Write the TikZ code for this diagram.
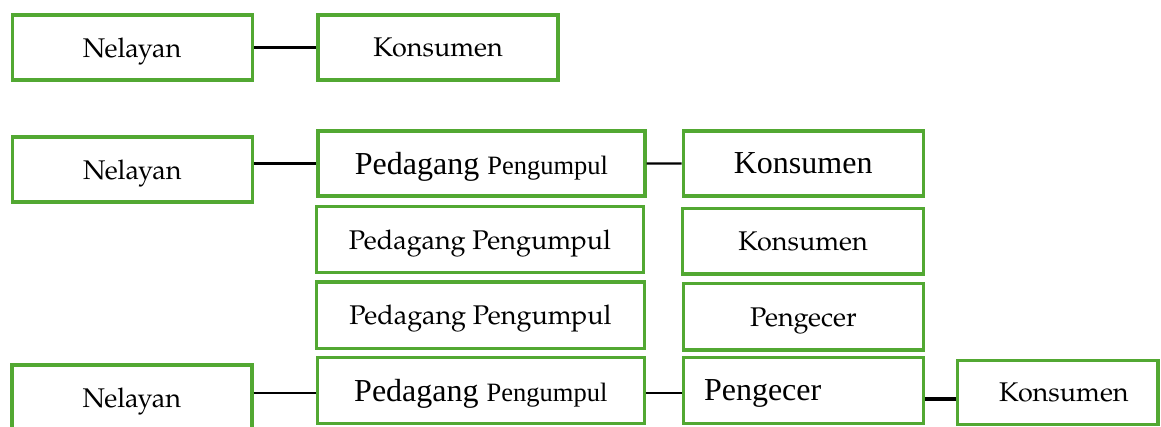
\documentclass[tikz,border=0pt]{standalone}
\usepackage{fontspec}
\newfontfamily\tmsfont{Liberation Serif}
\newfontfamily\palfont{TeX Gyre Pagella}
\definecolor{boxgreen}{RGB}{82,168,50}
\tikzset{
  box/.style={draw=boxgreen, line width=3.3pt, rectangle, inner sep=0pt,
    minimum width=240pt, minimum height=65pt, text depth=0pt, text=black},
  pal/.style={font=\palfont\fontsize{27}{32}\selectfont},
  link/.style={draw=black, line width=2.2pt},
  thicklink/.style={draw=black, line width=4pt}
}
\newcommand\bigsmall[2]{{\tmsfont\fontsize{32}{36}\selectfont #1 \fontsize{26.5}{30}\selectfont #2}}
\begin{document}
\begin{tikzpicture}[x=1pt,y=-1pt]
\useasboundingbox (0,0) rectangle (1161,426);

% first channel
\node[box,pal] (n1) at (132.2,47.5) {Nelayan};
\node[box,pal] (k1) at (438.1,47.5) {Konsumen};
\draw[link] (n1.east) -- (k1.west);

% second channel
\node[box,pal] (n2) at (132.3,169.5) {Nelayan};
\node[box,minimum width=327pt] (pp1) at (481.5,163.4) {\bigsmall{Pedagang}{Pengumpul}};
\node[box,font=\tmsfont\fontsize{32}{36}\selectfont] (k2) at (803.2,163.5) {Konsumen};
\draw[link] (n2.east |- pp1.west) -- (pp1.west);
\draw[link] (pp1.east) -- (k2.west);

% intermediate boxes
\node[box,pal,minimum width=326.6pt,minimum height=65.8pt] (pp2) at (480,239.6) {Pedagang Pengumpul};
\node[box,pal,minimum width=241.4pt,minimum height=65.7pt] (k3) at (803,241.2) {Konsumen};
\node[box,pal,minimum width=327.6pt,minimum height=66.2pt] (pp3) at (480.5,315.1) {Pedagang Pengumpul};
\node[box,pal,minimum height=66.7pt] (pg1) at (803.4,316.7) {Pengecer};

% third channel
\node[box,pal] (n3) at (131.9,397.5) {Nelayan};
\node[box,minimum width=327pt,minimum height=65.6pt] (pp4) at (480.8,390.5) {\bigsmall{Pedagang}{Pengumpul}};
\node[box,minimum height=65.6pt,text width=199pt,inner xsep=20.6pt,align=left,
  font=\tmsfont\fontsize{32}{36}\selectfont] (pg2) at (803.5,390.5) {Pengecer};
\node[box,pal,minimum width=200.2pt,minimum height=64pt] (k4) at (1057.9,392.5) {\hspace*{12pt}Konsumen};
\draw[link] ([yshift=-2.8pt]pp4.west -| n3.east) -- ([yshift=-2.8pt]pp4.west);
\draw[link] ([yshift=-2.8pt]pp4.east) -- ([yshift=-2.8pt]pg2.west);
\draw[thicklink] ([yshift=-8.5pt]pg2.east) -- ([yshift=-8.5pt]pg2.east -| k4.west);
\end{tikzpicture}
\end{document}
